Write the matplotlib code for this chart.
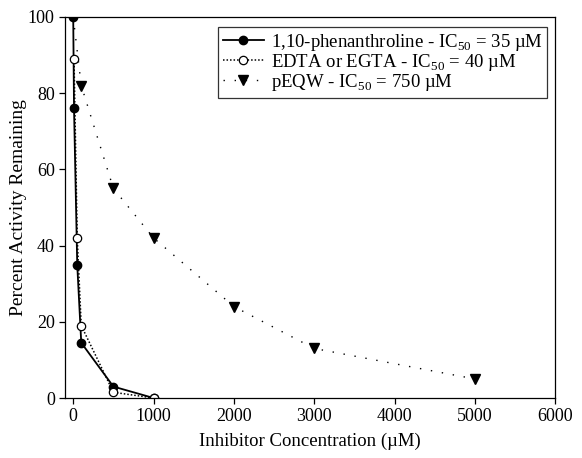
#!/usr/bin/env python3
# Inhibitor dose-response curves (percent activity vs concentration)
import matplotlib
matplotlib.use('Agg')
import matplotlib.pyplot as plt

plt.rcParams['font.family'] = ['Liberation Serif', 'DejaVu Serif']
plt.rcParams['mathtext.fontset'] = 'custom'
plt.rcParams['mathtext.rm'] = 'Liberation Serif'

## data
phen_x = [0, 10, 50, 100, 500, 1000]
phen_y = [100, 76, 35, 14.5, 3, 0]
edta_x = [10, 50, 100, 500, 1000]
edta_y = [89, 42, 19, 1.5, 0]
peqw_x = [0, 100, 500, 1000, 2000, 3000, 5000]
peqw_y = [100, 82, 55, 42, 24, 13, 5]

labels = ['1,10-phenanthroline - IC$_{50}$ = 35 µM',
          'EDTA or EGTA - IC$_{50}$ = 40 µM',
          'pEQW - IC$_{50}$ = 750 µM']
xticks = [0, 1000, 2000, 3000, 4000, 5000, 6000]
yticks = [0, 20, 40, 60, 80, 100]

fig = plt.figure(figsize=(5.82, 4.58), dpi=100)
ax = fig.add_axes([0.112, 0.131, 0.842, 0.832])

ax.plot(peqw_x, peqw_y, color='black', lw=1.0, ls=(0, (1, 7)),
        marker='v', ms=6.5, markevery=list(range(1, len(peqw_x))),
        mfc='black', mec='black', label=labels[2])
ax.plot(phen_x, phen_y, color='black', lw=1.3, ls='-',
        marker='o', ms=6, mfc='black', mec='black', label=labels[0])
ax.plot(edta_x, edta_y, color='black', lw=1.1, ls=(0, (1, 1.3)),
        marker='o', ms=6, mfc='white', mec='black', mew=0.9, label=labels[1])

ax.set_xlim(-100, 6000)
ax.set_ylim(0, 100)
ax.set_xticks(xticks)
ax.set_yticks(yticks)
ax.tick_params(direction='out', length=4, width=0.9, labelsize=13, colors='black')
for s in ax.spines.values():
    s.set_linewidth(0.9)

ax.set_xlabel('Inhibitor Concentration (µM)', fontsize=13.5, labelpad=5)
ax.set_ylabel('Percent Activity Remaining', fontsize=14, labelpad=1)

h, l = ax.get_legend_handles_labels()
order = [1, 2, 0]
leg = ax.legend([h[i] for i in order], [l[i] for i in order],
                loc='upper right', bbox_to_anchor=(0.984, 0.973),
                fontsize=13.5, frameon=True, fancybox=False,
                edgecolor='black', handlelength=2.2, handletextpad=0.35,
                borderpad=0.25, labelspacing=-0.05, borderaxespad=0)
leg.get_frame().set_linewidth(0.9)

fig.savefig('out.png', dpi=100)
